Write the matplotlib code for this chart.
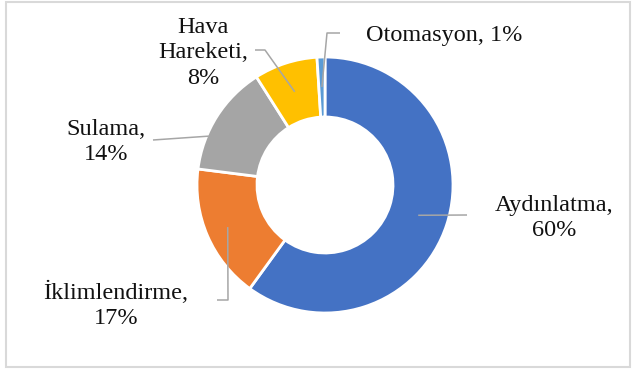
import numpy as np
import matplotlib

matplotlib.use("Agg")
import matplotlib.pyplot as plt
from matplotlib.patches import Rectangle

W, H = 633, 369

categories = ["Aydınlatma", "İklimlendirme", "Sulama", "Hava Hareketi", "Otomasyon"]
shares = [60, 17, 14, 8, 1]
label_texts = ["Aydınlatma,\n60%", "İklimlendirme,\n17%", "Sulama,\n14%", "Hava\nHareketi,\n8%", "Otomasyon, 1%"]
colors = ["#4472C4", "#ED7D31", "#A5A5A5", "#FFC000", "#5B9BD5"]

# layout, in pixels from the top-left corner
CENTER = (325, 185)
R_OUT, R_IN = 128, 68
label_pos = [(554, 218), (116, 305), (106, 142), (203, 53), (444, 35)]
anchor_frac = [0.5, 0.5, 0.69, 0.5, 0.5]
anchor_r = [98, 106, 126, 98, 98]
leader_tail = [
    [(467, 215)],
    [(228, 300), (217, 300)],
    [(153, 140)],
    [(265, 50), (255, 50)],
    [(327, 33), (340, 33)],
]


def to_data(x, y):
    return x, H - y


plt.rcParams["font.family"] = ["Liberation Serif", "DejaVu Serif"]

fig = plt.figure(figsize=(W / 100, H / 100), dpi=100)
ax = fig.add_axes([0, 0, 1, 1])

cx, cy = to_data(*CENTER)
wedges, _ = ax.pie(
    shares,
    colors=colors,
    startangle=90,
    counterclock=False,
    center=(cx, cy),
    radius=R_OUT,
    wedgeprops=dict(width=R_OUT - R_IN, edgecolor="white", linewidth=2),
    frame=True,
)
ax.set_xlim(0, W)
ax.set_ylim(0, H)
ax.set_aspect("equal")
ax.axis("off")

for i, w in enumerate(wedges):
    ang = np.deg2rad(w.theta1 + anchor_frac[i] * (w.theta2 - w.theta1))
    start = (cx + anchor_r[i] * np.cos(ang), cy + anchor_r[i] * np.sin(ang))
    pts = [start] + [to_data(*p) for p in leader_tail[i]]
    xs, ys = zip(*pts)
    ax.plot(xs, ys, color="#A6A6A6", linewidth=1.1, solid_capstyle="butt")
    tx, ty = to_data(*label_pos[i])
    ax.text(tx, ty, label_texts[i], ha="center", va="center",
            multialignment="center", fontsize=17.5, color="#111111", linespacing=1.3)

fig.patches.append(Rectangle((6 / W, 2 / H), 624 / W, 365 / H, transform=fig.transFigure,
                             fill=False, edgecolor="#D9D9D9", linewidth=1.5))

fig.savefig("out.png", dpi=100)
